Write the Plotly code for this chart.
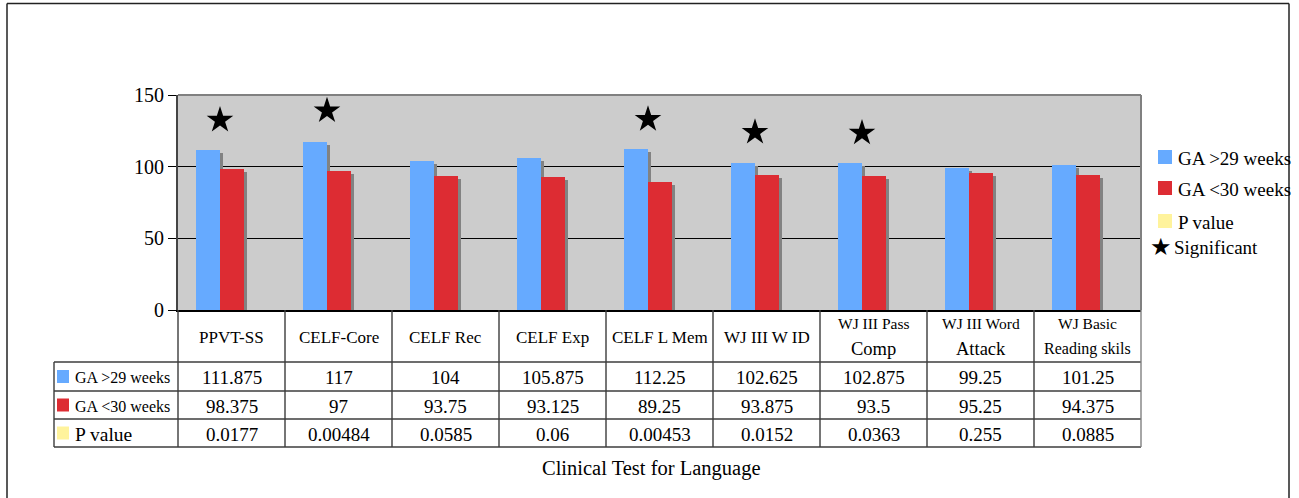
import plotly.graph_objects as go

# ---- data -------------------------------------------------------------
categories = [
    "PPVT-SS", "CELF-Core", "CELF Rec", "CELF Exp", "CELF L Mem",
    "WJ III W ID", "WJ III Pass\nComp", "WJ III Word\nAttack", "WJ Basic\nReading skils",
]
ga_over_29 = [111.875, 117, 104, 105.875, 112.25, 102.625, 102.875, 99.25, 101.25]
ga_under_30 = [98.375, 97, 93.75, 93.125, 89.25, 93.875, 93.5, 95.25, 94.375]
p_values = [0.0177, 0.00484, 0.0585, 0.06, 0.00453, 0.0152, 0.0363, 0.255, 0.0885]
star_heights = [132.5, 139, None, None, 133, 124, 123.5, None, None]
row_labels = ["GA >29 weeks", "GA <30 weeks", "P value"]
legend_labels = ["GA >29 weeks", "GA <30 weeks", "P value", "Significant"]
y_ticks = [0, 50, 100, 150]
x_title = "Clinical Test for Language"

# ---- style --------------------------------------------------------------
BLUE = "#66aaff"
RED = "#dd2c33"
YELLOW = "#fff39c"
SHADOW = "#828282"
PLOT_BG = "#cccccc"
GRID = "#000000"
TABLE_LINE = "#3c3c3c"
BORDER = "#808080"
FONT = "Liberation Serif, Times New Roman, serif"

W, H = 1299, 498
L, R, T, B = 178, 158, 95, 188
plot_w = W - L - R
plot_h = H - T - B
n = len(categories)
col_px = plot_w / n
y_max = 150
unit_px = plot_h / y_max


def px_x(px):
    return (px - L) / plot_w


def px_y(py):
    return (H - B - py) / plot_h


bar_w = 24 / col_px
blue_off = -35.5 / col_px
red_off = blue_off + bar_w
sh_dx = 3 / col_px
sh_dy = 3 / unit_px

idx = list(range(n))
fig = go.Figure()

# drop shadows behind the bars
for vals, off in [(ga_over_29, blue_off), (ga_under_30, red_off)]:
    fig.add_trace(go.Bar(
        x=idx, y=[v - sh_dy for v in vals], width=bar_w, offset=off + sh_dx,
        marker=dict(color=SHADOW, line=dict(width=0)),
        hoverinfo="skip", showlegend=False,
    ))

fig.add_trace(go.Bar(
    x=idx, y=ga_over_29, width=bar_w, offset=blue_off, name=row_labels[0],
    marker=dict(color=BLUE, line=dict(width=0)), showlegend=False,
))
fig.add_trace(go.Bar(
    x=idx, y=ga_under_30, width=bar_w, offset=red_off, name=row_labels[1],
    marker=dict(color=RED, line=dict(width=0)), showlegend=False,
))

# significance stars (p < 0.05)
sig = [i for i, p in enumerate(p_values) if p < 0.05]
fig.add_trace(go.Scatter(
    x=[i + red_off for i in sig], y=[star_heights[i] for i in sig],
    mode="markers", marker=dict(symbol="star", size=20, color="black"),
    name="Significant", showlegend=False,
))

shapes = []
annotations = []


def hline(py, x0, x1, color=TABLE_LINE, width=1.4):
    shapes.append(dict(type="line", xref="paper", yref="paper",
                       x0=px_x(x0), x1=px_x(x1), y0=px_y(py), y1=px_y(py),
                       line=dict(color=color, width=width), layer="above"))


def vline(px, y0, y1, color=TABLE_LINE, width=1.4):
    shapes.append(dict(type="line", xref="paper", yref="paper",
                       x0=px_x(px), x1=px_x(px), y0=px_y(y0), y1=px_y(y1),
                       line=dict(color=color, width=width), layer="above"))


def rect(x0, y0, x1, y1, color):
    shapes.append(dict(type="rect", xref="paper", yref="paper",
                       x0=px_x(x0), x1=px_x(x1), y0=px_y(y0), y1=px_y(y1),
                       fillcolor=color, line=dict(width=0), layer="above"))


def text(s, px, py, size, xanchor="center", family=FONT):
    annotations.append(dict(text=s, xref="paper", yref="paper",
                            x=px_x(px), y=px_y(py), xanchor=xanchor, yanchor="middle",
                            showarrow=False, font=dict(family=family, size=size, color="black")))


# plot-area border (top and right)
hline(T, L, L + plot_w, color=BORDER, width=2)
vline(L + plot_w, T, H - B, color=BORDER, width=2)

# data table under the axis
row_lines = [362, 391, 419, 447]
table_left = 54
for py in row_lines:
    hline(py, table_left, L + plot_w)
for i in range(n + 1):
    vline(L + i * col_px, H - B, row_lines[-1],
          color=BORDER if i == n else TABLE_LINE)
vline(table_left, row_lines[0], row_lines[-1])

# column headers
for i, cat in enumerate(categories):
    cx = L + (i + 0.5) * col_px
    lines = cat.split("\n")
    if len(lines) == 1:
        text(lines[0], cx, 337, 17)
    else:
        second = 16 if len(lines[1]) > 8 else 18.5
        text(lines[0], cx, 323, 15.5)
        text(lines[1], cx, 349, second)

# row headers and values
row_colors = [BLUE, RED, YELLOW]
row_sizes = [16, 16, 19.5]
rows = [ga_over_29, ga_under_30, p_values]
for r, (label, vals) in enumerate(zip(row_labels, rows)):
    cy = (row_lines[r] + row_lines[r + 1]) / 2
    rect(57, cy - 6.5, 69, cy + 6.5, row_colors[r])
    text(label, 73, cy + 1, row_sizes[r], xanchor="left")
    for i, v in enumerate(vals):
        text(f"{v:g}", L + (i + 0.5) * col_px, cy + 1, 19)

# key at the right
key_y = [157, 188, 221]
for color, label, ky in zip(row_colors, legend_labels[:3], key_y):
    rect(1158, ky - 7, 1172, ky + 7, color)
    text(label, 1176, ky + 1, 19, xanchor="left")
text("\u2605", 1161, 247, 24, family="DejaVu Sans")
text(legend_labels[3], 1172, 247, 19, xanchor="left")

# axis title
text(x_title, 651, 468, 20.5)

# outer frame
frame = dict(type="line", xref="paper", yref="paper", layer="above",
             line=dict(color="#222222", width=1.5))
shapes.append({**frame, "x0": px_x(7), "x1": px_x(1289), "y0": px_y(3.5), "y1": px_y(3.5)})
shapes.append({**frame, "x0": px_x(7), "x1": px_x(7), "y0": px_y(3.5), "y1": px_y(500)})
shapes.append({**frame, "x0": px_x(1289), "x1": px_x(1289), "y0": px_y(3.5), "y1": px_y(500)})

fig.update_layout(
    width=W, height=H,
    margin=dict(l=L, r=R, t=T, b=B, pad=0),
    paper_bgcolor="white", plot_bgcolor=PLOT_BG,
    barmode="overlay", bargap=0,
    shapes=shapes, annotations=annotations,
    font=dict(family=FONT, color="black"),
    xaxis=dict(range=[-0.5, n - 0.5], showticklabels=False, showgrid=False,
               zeroline=False, showline=True, linecolor="black", linewidth=1.5,
               ticks="", fixedrange=True),
    yaxis=dict(range=[0, y_max], tickvals=y_ticks, ticks="outside", ticklen=8,
               tickcolor="black", tickwidth=1.2, showgrid=True, gridcolor=GRID,
               gridwidth=1, zeroline=False, showline=True, linecolor="#444444",
               linewidth=2, tickfont=dict(family=FONT, size=20, color="black"),
               fixedrange=True),
    showlegend=False,
)

fig.write_html("out.html")
